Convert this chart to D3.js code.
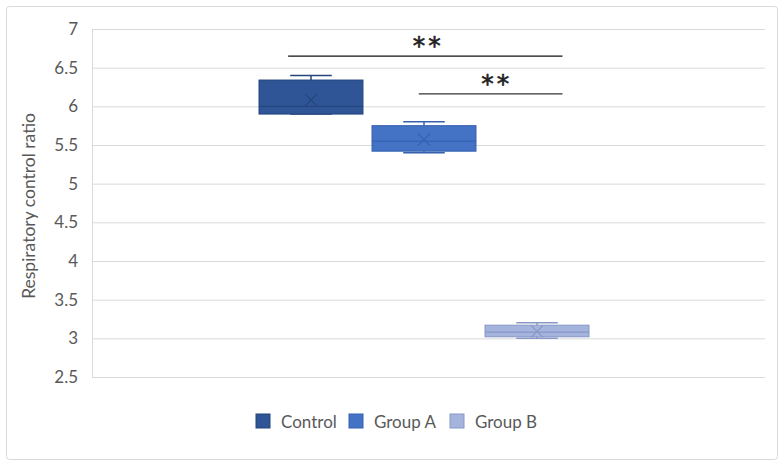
<!DOCTYPE html>
<html><head><meta charset="utf-8">
<script src="https://cdn.jsdelivr.net/npm/d3@7"></script>
<style>body{margin:0;background:#fff}svg{display:block}</style>
</head><body>
<svg id="c" width="784" height="466"></svg>
<script>
const seriesNames = ["Control", "Group A", "Group B"];
const fillColors = ["#2F5597", "#4472C4", "#A5B4DC"];
const strokeColors = ["#24457d", "#3461b0", "#8797c7"];
const whiskerMin = [5.9, 5.4, 3.0];
const q1 = [5.9, 5.42, 3.02];
const median = [6.0, 5.55, 3.08];
const q3 = [6.34, 5.75, 3.17];
const whiskerMax = [6.4, 5.8, 3.2];
const means = [6.08, 5.57, 3.09];
const yTicks = [2.5, 3, 3.5, 4, 4.5, 5, 5.5, 6, 6.5, 7];
const sigLines = [
  {from: 0, to: 2, value: 6.65, label: "**"},
  {from: 1, to: 2, value: 6.16, label: "**"}
];

const svg = d3.select("#c");
const font = "Lato, 'Open Sans', 'Liberation Sans', sans-serif";
svg.append("rect").attr("x", 6.5).attr("y", 6.5).attr("width", 771).attr("height", 453)
  .attr("rx", 3).attr("fill", "#fff").attr("stroke", "#d9d9d9");

const x0 = 92, x1 = 765;
const y = d3.scaleLinear().domain([2.5, 7]).range([377, 29]);
const x = d3.scaleBand().domain(seriesNames).range([259, 589]).paddingInner(0.08).paddingOuter(0);

// gridlines
svg.append("g").selectAll("line").data(yTicks).join("line")
  .attr("x1", x0).attr("x2", x1).attr("y1", d => y(d) + 0.5).attr("y2", d => y(d) + 0.5)
  .attr("stroke", "#d9d9d9").attr("stroke-width", 1);
svg.append("line").attr("x1", x0 + 0.5).attr("x2", x0 + 0.5).attr("y1", y(7)).attr("y2", y(2.5))
  .attr("stroke", "#d9d9d9");

const yAxis = d3.axisLeft(y).tickValues(yTicks).tickSize(0).tickPadding(14).tickFormat(d => d);
const ga = svg.append("g").attr("transform", `translate(${x0},0)`).call(yAxis);
ga.select(".domain").remove();
ga.selectAll("text").attr("font-family", font).attr("font-size", 17).attr("fill", "#595959");

svg.append("text").attr("transform", `translate(35,206) rotate(-90)`)
  .attr("text-anchor", "middle").attr("font-family", font).attr("font-size", 17.5).attr("fill", "#595959")
  .text("Respiratory control ratio");

// boxes
seriesNames.forEach((s, i) => {
  const bx = x(s), bw = x.bandwidth(), cx = bx + bw / 2;
  const g = svg.append("g");
  const capW = bw * 0.4;
  g.append("line").attr("x1", cx).attr("x2", cx).attr("y1", y(whiskerMax[i])).attr("y2", y(q3[i]))
    .attr("stroke", strokeColors[i]).attr("stroke-width", 1.5);
  g.append("line").attr("x1", cx).attr("x2", cx).attr("y1", y(whiskerMin[i])).attr("y2", y(q1[i]))
    .attr("stroke", strokeColors[i]).attr("stroke-width", 1.5);
  g.append("line").attr("x1", cx - capW / 2).attr("x2", cx + capW / 2).attr("y1", y(whiskerMax[i])).attr("y2", y(whiskerMax[i]))
    .attr("stroke", strokeColors[i]).attr("stroke-width", 1.5);
  g.append("line").attr("x1", cx - capW / 2).attr("x2", cx + capW / 2).attr("y1", y(whiskerMin[i])).attr("y2", y(whiskerMin[i]))
    .attr("stroke", strokeColors[i]).attr("stroke-width", 1.5);
  g.append("rect").attr("x", bx).attr("width", bw).attr("y", y(q3[i])).attr("height", y(q1[i]) - y(q3[i]))
    .attr("fill", fillColors[i]).attr("stroke", strokeColors[i]).attr("stroke-width", 1);
  g.append("line").attr("x1", bx).attr("x2", bx + bw).attr("y1", y(median[i])).attr("y2", y(median[i]))
    .attr("stroke", strokeColors[i]).attr("stroke-width", 1.2);
  const my = y(means[i]), r = 6;
  g.append("path").attr("d", `M${cx - r},${my - r}L${cx + r},${my + r}M${cx - r},${my + r}L${cx + r},${my - r}`)
    .attr("stroke", strokeColors[i]).attr("stroke-width", 1.2).attr("fill", "none");
});

// significance
sigLines.forEach((s, k) => {
  const xa = x(seriesNames[s.from]) + x.bandwidth() * (k === 0 ? 0.28 : 0.45);
  const xb = x(seriesNames[s.to]) + x.bandwidth() * 0.745;
  const yy = y(s.value);
  svg.append("line").attr("x1", xa).attr("x2", xb).attr("y1", yy).attr("y2", yy)
    .attr("stroke", k === 0 ? "#111" : "#333").attr("stroke-width", 1.3);
  svg.append("text").attr("x", k === 0 ? (xa + xb) / 2 + 3 : (xa + xb) / 2 + 6).attr("y", yy - 2)
    .attr("text-anchor", "middle").attr("font-family", "'DejaVu Sans', sans-serif").attr("font-size", 25)
    .attr("fill", "#222").attr("stroke", "#222").attr("stroke-width", 0.6).attr("letter-spacing", 3).text(s.label);
});

// legend
const legX = [256, 349, 450];
const lg = svg.append("g");
seriesNames.forEach((s, i) => {
  lg.append("rect").attr("x", legX[i]).attr("y", 414).attr("width", 14).attr("height", 14)
    .attr("fill", fillColors[i]).attr("stroke", strokeColors[i]);
  lg.append("text").attr("x", legX[i] + 25).attr("y", 428).attr("font-family", font).attr("font-size", 17)
    .attr("fill", "#595959").text(s);
});
</script>
</body></html>
